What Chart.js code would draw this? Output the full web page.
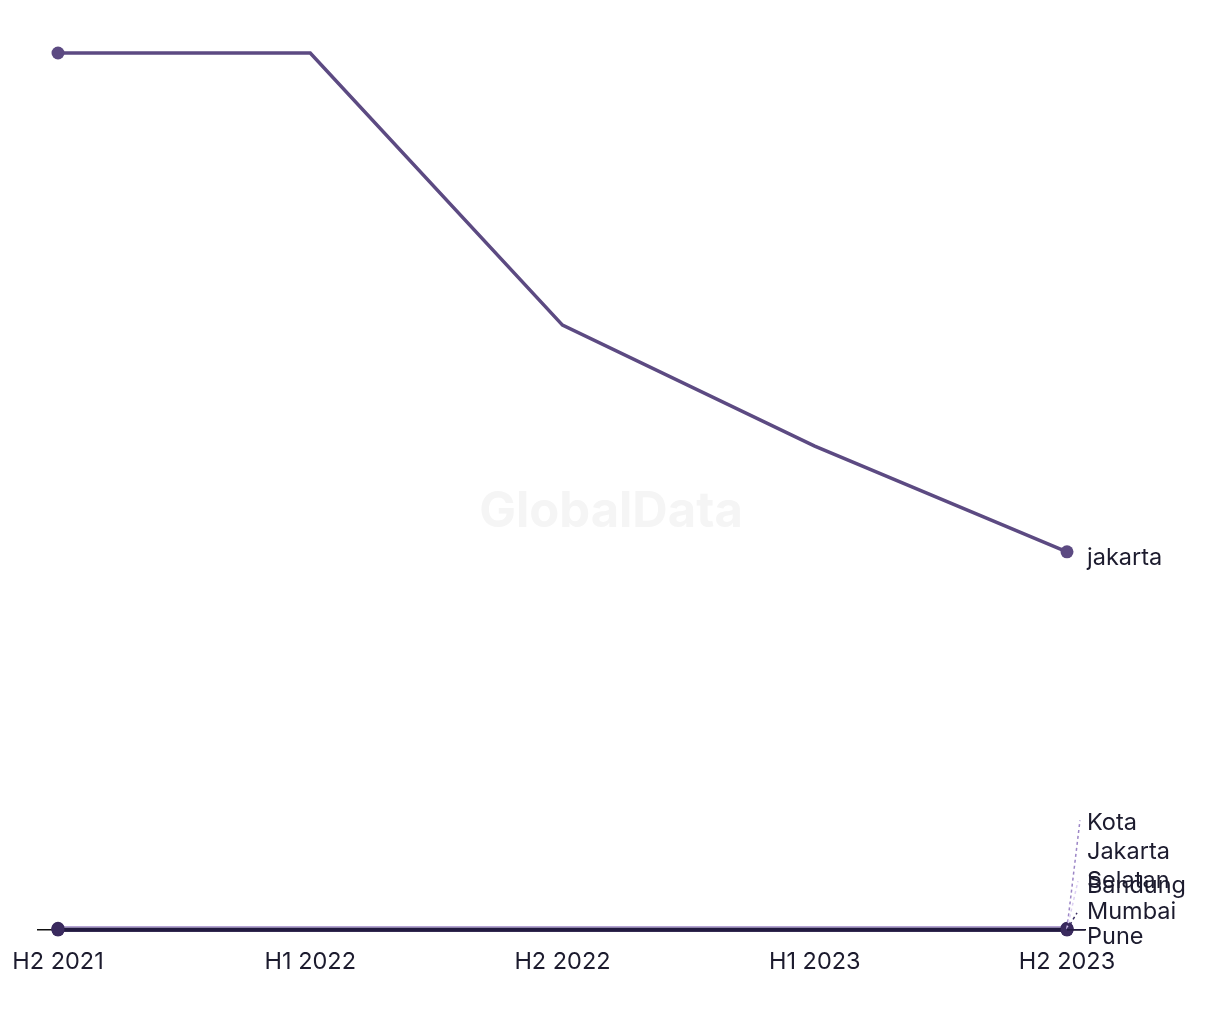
<!DOCTYPE html>
<html>
<head>
<meta charset="utf-8">
<script src="https://cdn.jsdelivr.net/npm/chart.js@4.4.1/dist/chart.umd.min.js"></script>
<style>
  html, body { margin: 0; padding: 0; background: #ffffff; }
  #grafico { display: block; }
</style>
</head>
<body>
<canvas id="grafico" width="1220" height="1020"></canvas>
<script>
/* ===== DADOS ===== */
const periodos = ["H2 2021", "H1 2022", "H2 2022", "H1 2023", "H2 2023"];

const jakarta = [58, 58, 40, 32, 25];
const kota_jakarta_selatan = [0.1, 0.1, 0.1, 0.1, 0.1];
const bandung = [0.05, 0.05, 0.05, 0.05, 0.05];
const mumbai = [0, 0, 0, 0, 0];
const pune = [0, 0, 0, 0, 0];

const nomes_series = ["jakarta", "Kota\nJakarta\nSelatan", "Bandung", "Mumbai", "Pune"];

/* ===== ESTILOS ===== */
const cores = ["#5c4a82", "#9c86c6", "#ddd0f2", "#3b2e63", "#221a40"];
const fonte = "Inter, 'Noto Sans', sans-serif";

// posicao dos rotulos (offset em px a partir do ultimo ponto)
const rotulo_offsets = [
  { dy: 6, lx: 0, ly: 0, dash: [] },
  { dy: -105, lx: 13, ly: -108, dash: [3, 3] },
  { dy: -43, lx: 11, ly: -48, dash: [3, 3] },
  { dy: -18, lx: 10, ly: -17, dash: [3, 3] },
  { dy: 7, lx: 18, ly: 0, dash: [] }
];

function monta_dataset(nome, dados, i) {
  return {
    label: nome,
    data: dados.map((v, k) => ({ x: k, y: v })),
    borderColor: cores[i],
    backgroundColor: i === 0 ? cores[0] : "#3a2a5e",
    borderWidth: i === 0 ? 3.5 : 4,
    pointRadius: dados.map((_, k) => (k === 0 || k === dados.length - 1) ? 6.5 : 0),
    pointHoverRadius: 6.5,
    pointBorderWidth: 0,
    tension: 0,
    clip: false,
    order: i === 0 ? 5 : 5 - i
  };
}

const datasets = [
  monta_dataset(nomes_series[0], jakarta, 0),
  monta_dataset(nomes_series[1], kota_jakarta_selatan, 1),
  monta_dataset(nomes_series[2], bandung, 2),
  monta_dataset(nomes_series[3], mumbai, 3),
  monta_dataset(nomes_series[4], pune, 4)
];

/* ===== PLUGINS ===== */
const marca_dagua = {
  id: "marca_dagua",
  beforeDraw(chart) {
    const ctx = chart.ctx;
    ctx.save();
    ctx.font = "bold 49px " + fonte;
    ctx.fillStyle = "#f5f5f5";
    ctx.textAlign = "center";
    ctx.textBaseline = "middle";
    ctx.fillText("GlobalData", chart.width / 2 + 1, 512);
    ctx.restore();
  }
};

const rotulos = {
  id: "rotulos",
  afterDatasetsDraw(chart) {
    const ctx = chart.ctx;
    const xs = chart.scales.x;
    const ys = chart.scales.y;
    ctx.save();
    ctx.font = "23.5px " + fonte;
    ctx.textBaseline = "middle";
    ctx.textAlign = "left";
    chart.data.datasets.forEach((ds, i) => {
      const ultimo = ds.data[ds.data.length - 1];
      const px = xs.getPixelForValue(ultimo.x);
      const py = ys.getPixelForValue(ultimo.y);
      const o = rotulo_offsets[i];
      if (i > 0) {
        ctx.strokeStyle = cores[i];
        ctx.lineWidth = 1.5;
        ctx.setLineDash(o.dash);
        ctx.beginPath();
        ctx.moveTo(px, py);
        ctx.lineTo(px + o.lx, py + o.ly);
        ctx.stroke();
        ctx.setLineDash([]);
      }
      ctx.fillStyle = "#1c1b2e";
      const linhas = ds.label.split("\n");
      linhas.forEach((l, k) => {
        ctx.fillText(l, px + 20, py + o.dy + k * 29);
      });
    });
    ctx.restore();
  }
};

/* ===== GRAFICO ===== */
const ctx_grafico = document.getElementById("grafico");
const grafico = new Chart(ctx_grafico, {
  type: "line",
  data: { datasets: datasets },
  options: {
    responsive: false,
    animation: false,
    layout: { padding: { top: 53, left: 38, right: 135, bottom: 34 } },
    plugins: {
      legend: { display: false },
      tooltip: { enabled: false }
    },
    scales: {
      x: {
        type: "linear",
        min: -0.0793,
        max: 4.0714,
        afterBuildTicks: (axis) => { axis.ticks = periodos.map((_, i) => ({ value: i })); },
        ticks: {
          callback: (v) => periodos[v],
          color: "#1c1b2e",
          font: { size: 23.5, family: fonte },
          padding: 10,
          maxRotation: 0,
          autoSkip: false
        },
        grid: { display: false },
        border: { display: true, color: "#111111", width: 1.5 }
      },
      y: {
        display: false,
        min: 0,
        max: 58
      }
    }
  },
  plugins: [marca_dagua, rotulos]
});
</script>
</body>
</html>
